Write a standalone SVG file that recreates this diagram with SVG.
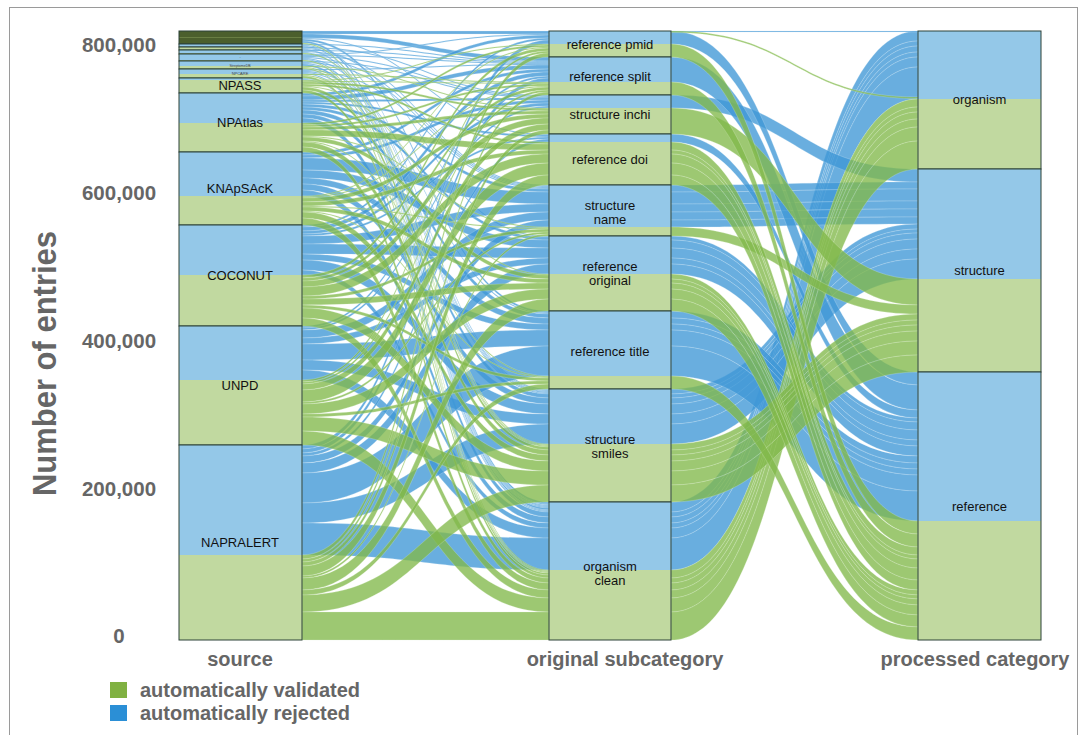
<svg xmlns="http://www.w3.org/2000/svg" width="1081" height="735" viewBox="0 0 1081 735">
<style>
.fb{fill:#3f97d6;fill-opacity:.78;stroke:#d6ebf8;stroke-width:.35;stroke-opacity:.7}
.fg{fill:#82b94a;fill-opacity:.78;stroke:#e4f1d6;stroke-width:.35;stroke-opacity:.7}
.nb{fill:#94c8e8}
.ng{fill:#c1d9a0}
.no{fill:none;stroke:#2d4238;stroke-width:1}
.lb{font-family:"Liberation Sans",Arial,sans-serif;font-size:13px;fill:#111;text-anchor:middle}
.ax{font-family:"Liberation Sans",Arial,sans-serif;font-weight:bold;font-size:20.5px;fill:#666;text-anchor:middle}
.ct{font-family:"Liberation Sans",Arial,sans-serif;font-weight:bold;font-size:20px;fill:#666}
</style>
<rect x="0" y="0" width="1081" height="735" fill="#fff"/>
<rect x="9.5" y="7.5" width="1068" height="740" fill="none" stroke="#9a9a9a" stroke-width="1"/>

<g id="axis">
<text class="ax" x="119" y="52">800,000</text>
<text class="ax" x="119" y="200">600,000</text>
<text class="ax" x="119" y="348">400,000</text>
<text class="ax" x="119" y="496">200,000</text>
<text class="ax" x="119" y="643">0</text>
<text class="ct" x="0" y="0" transform="translate(56,363.5) rotate(-90)" text-anchor="middle" style="font-size:33px" textLength="265" lengthAdjust="spacingAndGlyphs">Number of entries</text>
</g>

<g id="connectors">
<g id="flows-left-blue">
<path class="fb" d="M302 31C425.5 31 425.5 31 549 31V34C425.5 34 425.5 34 302 34Z"/>
<path class="fb" d="M302 34C425.5 34 425.5 57 549 57V61C425.5 61 425.5 38 302 38Z"/>
<path class="fb" d="M302 38C425.5 38 425.5 134 549 134V135C425.5 135 425.5 39 302 39Z"/>
<path class="fb" d="M302 39C425.5 39 425.5 311 549 311V313C425.5 313 425.5 41 302 41Z"/>
<path class="fb" d="M302 41C425.5 41 425.5 502 549 502V504C425.5 504 425.5 43 302 43Z"/>
<path class="fb" d="M302 44C425.5 44 425.5 61 549 61V62C425.5 62 425.5 45 302 45Z"/>
<path class="fb" d="M302 45C425.5 45 425.5 389 549 389V390C425.5 390 425.5 46 302 46Z"/>
<path class="fb" d="M302 46C425.5 46 425.5 504 549 504V505C425.5 505 425.5 47 302 47Z"/>
<path class="fb" d="M302 47C425.5 47 425.5 95 549 95V96C425.5 96 425.5 48 302 48Z"/>
<path class="fb" d="M302 48C425.5 48 425.5 236 549 236V237C425.5 237 425.5 49 302 49Z"/>
<path class="fb" d="M302 49C425.5 49 425.5 505 549 505V506C425.5 506 425.5 50 302 50Z"/>
<path class="fb" d="M302 50C425.5 50 425.5 62 549 62V63C425.5 63 425.5 51 302 51Z"/>
<path class="fb" d="M302 51C425.5 51 425.5 185 549 185V186C425.5 186 425.5 52 302 52Z"/>
<path class="fb" d="M302 52C425.5 52 425.5 506 549 506V507C425.5 507 425.5 53 302 53Z"/>
<path class="fb" d="M302 54C425.5 54 425.5 34 549 34V35C425.5 35 425.5 55 302 55Z"/>
<path class="fb" d="M302 55C425.5 55 425.5 63 549 63V64C425.5 64 425.5 56 302 56Z"/>
<path class="fb" d="M302 56C425.5 56 425.5 96 549 96V97C425.5 97 425.5 57 302 57Z"/>
<path class="fb" d="M302 57C425.5 57 425.5 186 549 186V187C425.5 187 425.5 58 302 58Z"/>
<path class="fb" d="M302 58C425.5 58 425.5 390 549 390V391C425.5 391 425.5 59 302 59Z"/>
<path class="fb" d="M302 59C425.5 59 425.5 507 549 507V508C425.5 508 425.5 60 302 60Z"/>
<path class="fb" d="M302 61C425.5 61 425.5 97 549 97V98C425.5 98 425.5 62 302 62Z"/>
<path class="fb" d="M302 62C425.5 62 425.5 187 549 187V188C425.5 188 425.5 63 302 63Z"/>
<path class="fb" d="M302 63C425.5 63 425.5 391 549 391V392C425.5 392 425.5 64 302 64Z"/>
<path class="fb" d="M302 64C425.5 64 425.5 508 549 508V510C425.5 510 425.5 66 302 66Z"/>
<path class="fb" d="M302 69C425.5 69 425.5 64 549 64V65C425.5 65 425.5 70 302 70Z"/>
<path class="fb" d="M302 70C425.5 70 425.5 188 549 188V189C425.5 189 425.5 71 302 71Z"/>
<path class="fb" d="M302 71C425.5 71 425.5 313 549 313V314C425.5 314 425.5 72 302 72Z"/>
<path class="fb" d="M302 72C425.5 72 425.5 392 549 392V393C425.5 393 425.5 73 302 73Z"/>
<path class="fb" d="M302 73C425.5 73 425.5 510 549 510V511C425.5 511 425.5 74 302 74Z"/>
<path class="fb" d="M302 78C425.5 78 425.5 393 549 393V394C425.5 394 425.5 79 302 79Z"/>
<path class="fb" d="M302 79C425.5 79 425.5 511 549 511V512C425.5 512 425.5 80 302 80Z"/>
<path class="fb" d="M302 93C425.5 93 425.5 35 549 35V38C425.5 38 425.5 96 302 96Z"/>
<path class="fb" d="M302 96C425.5 96 425.5 65 549 65V69C425.5 69 425.5 100 302 100Z"/>
<path class="fb" d="M302 100C425.5 100 425.5 98 549 98V100C425.5 100 425.5 102 302 102Z"/>
<path class="fb" d="M302 102C425.5 102 425.5 135 549 135V137C425.5 137 425.5 104 302 104Z"/>
<path class="fb" d="M302 104C425.5 104 425.5 189 549 189V192C425.5 192 425.5 107 302 107Z"/>
<path class="fb" d="M302 107C425.5 107 425.5 237 549 237V240C425.5 240 425.5 110 302 110Z"/>
<path class="fb" d="M302 110C425.5 110 425.5 314 549 314V318C425.5 318 425.5 114 302 114Z"/>
<path class="fb" d="M302 114C425.5 114 425.5 394 549 394V398C425.5 398 425.5 118 302 118Z"/>
<path class="fb" d="M302 118C425.5 118 425.5 512 549 512V517C425.5 517 425.5 123 302 123Z"/>
<path class="fb" d="M302 152C425.5 152 425.5 69 549 69V72C425.5 72 425.5 155 302 155Z"/>
<path class="fb" d="M302 155C425.5 155 425.5 100 549 100V103C425.5 103 425.5 158 302 158Z"/>
<path class="fb" d="M302 158C425.5 158 425.5 192 549 192V204C425.5 204 425.5 170 302 170Z"/>
<path class="fb" d="M302 170C425.5 170 425.5 240 549 240V248C425.5 248 425.5 178 302 178Z"/>
<path class="fb" d="M302 178C425.5 178 425.5 318 549 318V324C425.5 324 425.5 184 302 184Z"/>
<path class="fb" d="M302 184C425.5 184 425.5 398 549 398V404C425.5 404 425.5 190 302 190Z"/>
<path class="fb" d="M302 190C425.5 190 425.5 517 549 517V523C425.5 523 425.5 196 302 196Z"/>
<path class="fb" d="M302 225C425.5 225 425.5 38 549 38V40C425.5 40 425.5 227 302 227Z"/>
<path class="fb" d="M302 227C425.5 227 425.5 72 549 72V76C425.5 76 425.5 231 302 231Z"/>
<path class="fb" d="M302 231C425.5 231 425.5 103 549 103V106C425.5 106 425.5 234 302 234Z"/>
<path class="fb" d="M302 234C425.5 234 425.5 137 549 137V139C425.5 139 425.5 236 302 236Z"/>
<path class="fb" d="M302 236C425.5 236 425.5 204 549 204V212C425.5 212 425.5 244 302 244Z"/>
<path class="fb" d="M302 244C425.5 244 425.5 248 549 248V258C425.5 258 425.5 254 302 254Z"/>
<path class="fb" d="M302 254C425.5 254 425.5 324 549 324V330C425.5 330 425.5 260 302 260Z"/>
<path class="fb" d="M302 260C425.5 260 425.5 404 549 404V414C425.5 414 425.5 270 302 270Z"/>
<path class="fb" d="M302 270C425.5 270 425.5 523 549 523V528C425.5 528 425.5 275 302 275Z"/>
<path class="fb" d="M302 326C425.5 326 425.5 76 549 76V78C425.5 78 425.5 328 302 328Z"/>
<path class="fb" d="M302 328C425.5 328 425.5 106 549 106V108C425.5 108 425.5 330 302 330Z"/>
<path class="fb" d="M302 330C425.5 330 425.5 212 549 212V220C425.5 220 425.5 338 302 338Z"/>
<path class="fb" d="M302 338C425.5 338 425.5 258 549 258V264C425.5 264 425.5 344 302 344Z"/>
<path class="fb" d="M302 344C425.5 344 425.5 330 549 330V346C425.5 346 425.5 360 302 360Z"/>
<path class="fb" d="M302 360C425.5 360 425.5 414 549 414V424C425.5 424 425.5 370 302 370Z"/>
<path class="fb" d="M302 370C425.5 370 425.5 528 549 528V538C425.5 538 425.5 380 302 380Z"/>
<path class="fb" d="M302 445C425.5 445 425.5 40 549 40V44C425.5 44 425.5 449 302 449Z"/>
<path class="fb" d="M302 449C425.5 449 425.5 78 549 78V82C425.5 82 425.5 453 302 453Z"/>
<path class="fb" d="M302 453C425.5 453 425.5 139 549 139V142C425.5 142 425.5 456 302 456Z"/>
<path class="fb" d="M302 456C425.5 456 425.5 220 549 220V227C425.5 227 425.5 463 302 463Z"/>
<path class="fb" d="M302 463C425.5 463 425.5 264 549 264V274C425.5 274 425.5 473 302 473Z"/>
<path class="fb" d="M302 473C425.5 473 425.5 346 549 346V376C425.5 376 425.5 503 302 503Z"/>
<path class="fb" d="M302 503C425.5 503 425.5 424 549 424V444C425.5 444 425.5 523 302 523Z"/>
<path class="fb" d="M302 523C425.5 523 425.5 538 549 538V570C425.5 570 425.5 555 302 555Z"/>
</g>
<g id="flows-left-green">
<path class="fg" d="M302 43C425.5 43 425.5 570 549 570V571C425.5 571 425.5 44 302 44Z"/>
<path class="fg" d="M302 53C425.5 53 425.5 444 549 444V445C425.5 445 425.5 54 302 54Z"/>
<path class="fg" d="M302 60C425.5 60 425.5 571 549 571V572C425.5 572 425.5 61 302 61Z"/>
<path class="fg" d="M302 66C425.5 66 425.5 108 549 108V109C425.5 109 425.5 67 302 67Z"/>
<path class="fg" d="M302 67C425.5 67 425.5 445 549 445V446C425.5 446 425.5 68 302 68Z"/>
<path class="fg" d="M302 68C425.5 68 425.5 572 549 572V573C425.5 573 425.5 69 302 69Z"/>
<path class="fg" d="M302 74C425.5 74 425.5 82 549 82V83C425.5 83 425.5 75 302 75Z"/>
<path class="fg" d="M302 75C425.5 75 425.5 446 549 446V447C425.5 447 425.5 76 302 76Z"/>
<path class="fg" d="M302 76C425.5 76 425.5 573 549 573V575C425.5 575 425.5 78 302 78Z"/>
<path class="fg" d="M302 80C425.5 80 425.5 44 549 44V45C425.5 45 425.5 81 302 81Z"/>
<path class="fg" d="M302 81C425.5 81 425.5 83 549 83V84C425.5 84 425.5 82 302 82Z"/>
<path class="fg" d="M302 82C425.5 82 425.5 109 549 109V111C425.5 111 425.5 84 302 84Z"/>
<path class="fg" d="M302 84C425.5 84 425.5 142 549 142V144C425.5 144 425.5 86 302 86Z"/>
<path class="fg" d="M302 86C425.5 86 425.5 274 549 274V275C425.5 275 425.5 87 302 87Z"/>
<path class="fg" d="M302 87C425.5 87 425.5 447 549 447V450C425.5 450 425.5 90 302 90Z"/>
<path class="fg" d="M302 90C425.5 90 425.5 575 549 575V578C425.5 578 425.5 93 302 93Z"/>
<path class="fg" d="M302 123C425.5 123 425.5 45 549 45V47C425.5 47 425.5 125 302 125Z"/>
<path class="fg" d="M302 125C425.5 125 425.5 84 549 84V86C425.5 86 425.5 127 302 127Z"/>
<path class="fg" d="M302 127C425.5 127 425.5 111 549 111V114C425.5 114 425.5 130 302 130Z"/>
<path class="fg" d="M302 130C425.5 130 425.5 144 549 144V150C425.5 150 425.5 136 302 136Z"/>
<path class="fg" d="M302 136C425.5 136 425.5 227 549 227V228C425.5 228 425.5 137 302 137Z"/>
<path class="fg" d="M302 137C425.5 137 425.5 275 549 275V279C425.5 279 425.5 141 302 141Z"/>
<path class="fg" d="M302 141C425.5 141 425.5 376 549 376V377C425.5 377 425.5 142 302 142Z"/>
<path class="fg" d="M302 142C425.5 142 425.5 450 549 450V455C425.5 455 425.5 147 302 147Z"/>
<path class="fg" d="M302 147C425.5 147 425.5 578 549 578V583C425.5 583 425.5 152 302 152Z"/>
<path class="fg" d="M302 196C425.5 196 425.5 47 549 47V48C425.5 48 425.5 197 302 197Z"/>
<path class="fg" d="M302 197C425.5 197 425.5 86 549 86V87C425.5 87 425.5 198 302 198Z"/>
<path class="fg" d="M302 198C425.5 198 425.5 114 549 114V118C425.5 118 425.5 202 302 202Z"/>
<path class="fg" d="M302 202C425.5 202 425.5 150 549 150V154C425.5 154 425.5 206 302 206Z"/>
<path class="fg" d="M302 206C425.5 206 425.5 228 549 228V229C425.5 229 425.5 207 302 207Z"/>
<path class="fg" d="M302 207C425.5 207 425.5 279 549 279V283C425.5 283 425.5 211 302 211Z"/>
<path class="fg" d="M302 211C425.5 211 425.5 377 549 377V378C425.5 378 425.5 212 302 212Z"/>
<path class="fg" d="M302 212C425.5 212 425.5 455 549 455V461C425.5 461 425.5 218 302 218Z"/>
<path class="fg" d="M302 218C425.5 218 425.5 583 549 583V590C425.5 590 425.5 225 302 225Z"/>
<path class="fg" d="M302 275C425.5 275 425.5 48 549 48V51C425.5 51 425.5 278 302 278Z"/>
<path class="fg" d="M302 278C425.5 278 425.5 87 549 87V90C425.5 90 425.5 281 302 281Z"/>
<path class="fg" d="M302 281C425.5 281 425.5 118 549 118V124C425.5 124 425.5 287 302 287Z"/>
<path class="fg" d="M302 287C425.5 287 425.5 154 549 154V163C425.5 163 425.5 296 302 296Z"/>
<path class="fg" d="M302 296C425.5 296 425.5 229 549 229V232C425.5 232 425.5 299 302 299Z"/>
<path class="fg" d="M302 299C425.5 299 425.5 283 549 283V289C425.5 289 425.5 305 302 305Z"/>
<path class="fg" d="M302 305C425.5 305 425.5 378 549 378V381C425.5 381 425.5 308 302 308Z"/>
<path class="fg" d="M302 308C425.5 308 425.5 461 549 461V471C425.5 471 425.5 318 302 318Z"/>
<path class="fg" d="M302 318C425.5 318 425.5 590 549 590V598C425.5 598 425.5 326 302 326Z"/>
<path class="fg" d="M302 380C425.5 380 425.5 51 549 51V53C425.5 53 425.5 382 302 382Z"/>
<path class="fg" d="M302 382C425.5 382 425.5 90 549 90V92C425.5 92 425.5 384 302 384Z"/>
<path class="fg" d="M302 384C425.5 384 425.5 124 549 124V130C425.5 130 425.5 390 302 390Z"/>
<path class="fg" d="M302 390C425.5 390 425.5 163 549 163V175C425.5 175 425.5 402 302 402Z"/>
<path class="fg" d="M302 402C425.5 402 425.5 232 549 232V234C425.5 234 425.5 404 302 404Z"/>
<path class="fg" d="M302 404C425.5 404 425.5 289 549 289V299C425.5 299 425.5 414 302 414Z"/>
<path class="fg" d="M302 414C425.5 414 425.5 381 549 381V384C425.5 384 425.5 417 302 417Z"/>
<path class="fg" d="M302 417C425.5 417 425.5 471 549 471V485C425.5 485 425.5 431 302 431Z"/>
<path class="fg" d="M302 431C425.5 431 425.5 598 549 598V612C425.5 612 425.5 445 302 445Z"/>
<path class="fg" d="M302 555C425.5 555 425.5 53 549 53V57C425.5 57 425.5 559 302 559Z"/>
<path class="fg" d="M302 559C425.5 559 425.5 92 549 92V95C425.5 95 425.5 562 302 562Z"/>
<path class="fg" d="M302 562C425.5 562 425.5 130 549 130V134C425.5 134 425.5 566 302 566Z"/>
<path class="fg" d="M302 566C425.5 566 425.5 175 549 175V185C425.5 185 425.5 576 302 576Z"/>
<path class="fg" d="M302 576C425.5 576 425.5 234 549 234V236C425.5 236 425.5 578 302 578Z"/>
<path class="fg" d="M302 578C425.5 578 425.5 299 549 299V311C425.5 311 425.5 590 302 590Z"/>
<path class="fg" d="M302 590C425.5 590 425.5 384 549 384V389C425.5 389 425.5 595 302 595Z"/>
<path class="fg" d="M302 595C425.5 595 425.5 485 549 485V502C425.5 502 425.5 612 302 612Z"/>
<path class="fg" d="M302 612C425.5 612 425.5 612 549 612V640C425.5 640 425.5 640 302 640Z"/>
</g>
<g id="flows-right">
<path class="fb" d="M671 502C794.5 502 794.5 31 918 31V41C794.5 41 794.5 512 671 512Z"/>
<path class="fb" d="M671 512C794.5 512 794.5 41 918 41V46C794.5 46 794.5 517 671 517Z"/>
<path class="fb" d="M671 517C794.5 517 794.5 46 918 46V52C794.5 52 794.5 523 671 523Z"/>
<path class="fb" d="M671 523C794.5 523 794.5 52 918 52V57C794.5 57 794.5 528 671 528Z"/>
<path class="fb" d="M671 528C794.5 528 794.5 57 918 57V67C794.5 67 794.5 538 671 538Z"/>
<path class="fb" d="M671 538C794.5 538 794.5 67 918 67V99C794.5 99 794.5 570 671 570Z"/>
<path class="fb" d="M671 95C794.5 95 794.5 169 918 169V182C794.5 182 794.5 108 671 108Z"/>
<path class="fb" d="M671 185C794.5 185 794.5 182 918 182V189C794.5 189 794.5 192 671 192Z"/>
<path class="fb" d="M671 192C794.5 192 794.5 189 918 189V201C794.5 201 794.5 204 671 204Z"/>
<path class="fb" d="M671 204C794.5 204 794.5 201 918 201V209C794.5 209 794.5 212 671 212Z"/>
<path class="fb" d="M671 212C794.5 212 794.5 209 918 209V217C794.5 217 794.5 220 671 220Z"/>
<path class="fb" d="M671 220C794.5 220 794.5 217 918 217V224C794.5 224 794.5 227 671 227Z"/>
<path class="fb" d="M671 389C794.5 389 794.5 224 918 224V229C794.5 229 794.5 394 671 394Z"/>
<path class="fb" d="M671 394C794.5 394 794.5 229 918 229V233C794.5 233 794.5 398 671 398Z"/>
<path class="fb" d="M671 398C794.5 398 794.5 233 918 233V239C794.5 239 794.5 404 671 404Z"/>
<path class="fb" d="M671 404C794.5 404 794.5 239 918 239V249C794.5 249 794.5 414 671 414Z"/>
<path class="fb" d="M671 414C794.5 414 794.5 249 918 249V259C794.5 259 794.5 424 671 424Z"/>
<path class="fb" d="M671 424C794.5 424 794.5 259 918 259V279C794.5 279 794.5 444 671 444Z"/>
<path class="fb" d="M671 31C794.5 31 794.5 372 918 372V385C794.5 385 794.5 44 671 44Z"/>
<path class="fb" d="M671 57C794.5 57 794.5 385 918 385V410C794.5 410 794.5 82 671 82Z"/>
<path class="fb" d="M671 134C794.5 134 794.5 410 918 410V418C794.5 418 794.5 142 671 142Z"/>
<path class="fb" d="M671 236C794.5 236 794.5 418 918 418V422C794.5 422 794.5 240 671 240Z"/>
<path class="fb" d="M671 240C794.5 240 794.5 422 918 422V430C794.5 430 794.5 248 671 248Z"/>
<path class="fb" d="M671 248C794.5 248 794.5 430 918 430V440C794.5 440 794.5 258 671 258Z"/>
<path class="fb" d="M671 258C794.5 258 794.5 440 918 440V446C794.5 446 794.5 264 671 264Z"/>
<path class="fb" d="M671 264C794.5 264 794.5 446 918 446V456C794.5 456 794.5 274 671 274Z"/>
<path class="fb" d="M671 311C794.5 311 794.5 456 918 456V463C794.5 463 794.5 318 671 318Z"/>
<path class="fb" d="M671 318C794.5 318 794.5 463 918 463V469C794.5 469 794.5 324 671 324Z"/>
<path class="fb" d="M671 324C794.5 324 794.5 469 918 469V475C794.5 475 794.5 330 671 330Z"/>
<path class="fb" d="M671 330C794.5 330 794.5 475 918 475V491C794.5 491 794.5 346 671 346Z"/>
<path class="fb" d="M671 346C794.5 346 794.5 491 918 491V521C794.5 521 794.5 376 671 376Z"/>
<path class="fb" d="M671 31C794.5 31 794.5 31 918 31V32C794.5 32 794.5 32 671 32Z"/>
<path class="fg" d="M671 570C794.5 570 794.5 99 918 99V107C794.5 107 794.5 578 671 578Z"/>
<path class="fg" d="M671 578C794.5 578 794.5 107 918 107V112C794.5 112 794.5 583 671 583Z"/>
<path class="fg" d="M671 583C794.5 583 794.5 112 918 112V119C794.5 119 794.5 590 671 590Z"/>
<path class="fg" d="M671 590C794.5 590 794.5 119 918 119V127C794.5 127 794.5 598 671 598Z"/>
<path class="fg" d="M671 598C794.5 598 794.5 127 918 127V141C794.5 141 794.5 612 671 612Z"/>
<path class="fg" d="M671 612C794.5 612 794.5 141 918 141V169C794.5 169 794.5 640 671 640Z"/>
<path class="fg" d="M671 108C794.5 108 794.5 279 918 279V305C794.5 305 794.5 134 671 134Z"/>
<path class="fg" d="M671 227C794.5 227 794.5 305 918 305V314C794.5 314 794.5 236 671 236Z"/>
<path class="fg" d="M671 444C794.5 444 794.5 314 918 314V320C794.5 320 794.5 450 671 450Z"/>
<path class="fg" d="M671 450C794.5 450 794.5 320 918 320V325C794.5 325 794.5 455 671 455Z"/>
<path class="fg" d="M671 455C794.5 455 794.5 325 918 325V331C794.5 331 794.5 461 671 461Z"/>
<path class="fg" d="M671 461C794.5 461 794.5 331 918 331V341C794.5 341 794.5 471 671 471Z"/>
<path class="fg" d="M671 471C794.5 471 794.5 341 918 341V355C794.5 355 794.5 485 671 485Z"/>
<path class="fg" d="M671 485C794.5 485 794.5 355 918 355V372C794.5 372 794.5 502 671 502Z"/>
<path class="fg" d="M671 44C794.5 44 794.5 521 918 521V534C794.5 534 794.5 57 671 57Z"/>
<path class="fg" d="M671 82C794.5 82 794.5 534 918 534V547C794.5 547 794.5 95 671 95Z"/>
<path class="fg" d="M671 142C794.5 142 794.5 547 918 547V555C794.5 555 794.5 150 671 150Z"/>
<path class="fg" d="M671 150C794.5 150 794.5 555 918 555V559C794.5 559 794.5 154 671 154Z"/>
<path class="fg" d="M671 154C794.5 154 794.5 559 918 559V568C794.5 568 794.5 163 671 163Z"/>
<path class="fg" d="M671 163C794.5 163 794.5 568 918 568V580C794.5 580 794.5 175 671 175Z"/>
<path class="fg" d="M671 175C794.5 175 794.5 580 918 580V590C794.5 590 794.5 185 671 185Z"/>
<path class="fg" d="M671 274C794.5 274 794.5 590 918 590V595C794.5 595 794.5 279 671 279Z"/>
<path class="fg" d="M671 279C794.5 279 794.5 595 918 595V599C794.5 599 794.5 283 671 283Z"/>
<path class="fg" d="M671 283C794.5 283 794.5 599 918 599V605C794.5 605 794.5 289 671 289Z"/>
<path class="fg" d="M671 289C794.5 289 794.5 605 918 605V615C794.5 615 794.5 299 671 299Z"/>
<path class="fg" d="M671 299C794.5 299 794.5 615 918 615V627C794.5 627 794.5 311 671 311Z"/>
<path class="fg" d="M671 376C794.5 376 794.5 627 918 627V640C794.5 640 794.5 389 671 389Z"/>
<path class="fg" d="M671 31C794.5 31 794.5 97 918 97V98.5C794.5 98.5 794.5 32.5 671 32.5Z"/>
</g>
</g>

<g id="src-top-block">
<rect x="179" y="31" width="123" height="13" fill="#4b5f2c"/>
<line x1="179" y1="37.5" x2="302" y2="37.5" stroke="#7d9454" stroke-width="0.6"/>
<rect class="no" x="179" y="31" width="123" height="13"/>
</g>
<g id="src-small-1"><rect class="nb" x="179" y="44" width="123" height="3"/><rect class="no" x="179" y="44" width="123" height="3"/></g>
<g id="src-small-2"><rect class="ng" x="179" y="47" width="123" height="3"/><rect class="no" x="179" y="47" width="123" height="3"/></g>
<g id="src-small-3"><rect class="nb" x="179" y="50" width="123" height="3"/><rect class="ng" x="179" y="53" width="123" height="1"/><rect class="no" x="179" y="50" width="123" height="4"/></g>
<g id="src-dot"><rect class="nb" x="179" y="54" width="123" height="6"/><rect class="ng" x="179" y="60" width="123" height="1"/><rect class="no" x="179" y="54" width="123" height="7"/><text class="lb" x="240" y="58" style="font-size:4px">.</text></g>
<g id="src-StreptomeDB"><rect class="nb" x="179" y="61" width="123" height="5"/><rect class="ng" x="179" y="66" width="123" height="3"/><rect class="no" x="179" y="61" width="123" height="8"/><text class="lb" x="240" y="66.5" style="font-size:3.5px;fill:#444">StreptomeDB</text></g>
<g id="src-NPCARE"><rect class="nb" x="179" y="69" width="123" height="5"/><rect class="ng" x="179" y="74" width="123" height="4"/><rect class="no" x="179" y="69" width="123" height="9"/><text class="lb" x="240" y="75" style="font-size:4px;fill:#444">NPCARE</text></g>
<g id="src-NPASS"><rect class="nb" x="179" y="78" width="123" height="2"/><rect class="ng" x="179" y="80" width="123" height="13"/><rect class="no" x="179" y="78" width="123" height="15"/><text class="lb" x="240" y="90">NPASS</text></g>
<g id="src-NPAtlas"><rect class="nb" x="179" y="93" width="123" height="30"/><rect class="ng" x="179" y="123" width="123" height="29"/><rect class="no" x="179" y="93" width="123" height="59"/><text class="lb" x="240" y="127">NPAtlas</text></g>
<g id="src-KNApSAcK"><rect class="nb" x="179" y="152" width="123" height="44"/><rect class="ng" x="179" y="196" width="123" height="29"/><rect class="no" x="179" y="152" width="123" height="73"/><text class="lb" x="240" y="193">KNApSAcK</text></g>
<g id="src-COCONUT"><rect class="nb" x="179" y="225" width="123" height="50"/><rect class="ng" x="179" y="275" width="123" height="51"/><rect class="no" x="179" y="225" width="123" height="101"/><text class="lb" x="240" y="280">COCONUT</text></g>
<g id="src-UNPD"><rect class="nb" x="179" y="326" width="123" height="54"/><rect class="ng" x="179" y="380" width="123" height="65"/><rect class="no" x="179" y="326" width="123" height="119"/><text class="lb" x="240" y="390">UNPD</text></g>
<g id="src-NAPRALERT"><rect class="nb" x="179" y="445" width="123" height="110"/><rect class="ng" x="179" y="555" width="123" height="85"/><rect class="no" x="179" y="445" width="123" height="195"/><text class="lb" x="240" y="547">NAPRALERT</text></g>

<g id="sub-reference-pmid"><rect class="nb" x="549" y="31" width="122" height="13"/><rect class="ng" x="549" y="44" width="122" height="13"/><rect class="no" x="549" y="31" width="122" height="26"/><text class="lb" x="610" y="48.5">reference pmid</text></g>
<g id="sub-reference-split"><rect class="nb" x="549" y="57" width="122" height="25"/><rect class="ng" x="549" y="82" width="122" height="13"/><rect class="no" x="549" y="57" width="122" height="38"/><text class="lb" x="610" y="80.5">reference split</text></g>
<g id="sub-structure-inchi"><rect class="nb" x="549" y="95" width="122" height="13"/><rect class="ng" x="549" y="108" width="122" height="26"/><rect class="no" x="549" y="95" width="122" height="39"/><text class="lb" x="610" y="119">structure inchi</text></g>
<g id="sub-reference-doi"><rect class="nb" x="549" y="134" width="122" height="8"/><rect class="ng" x="549" y="142" width="122" height="43"/><rect class="no" x="549" y="134" width="122" height="51"/><text class="lb" x="610" y="164">reference doi</text></g>
<g id="sub-structure-name"><rect class="nb" x="549" y="185" width="122" height="42"/><rect class="ng" x="549" y="227" width="122" height="9"/><rect class="no" x="549" y="185" width="122" height="51"/><text class="lb" x="610" y="209.5">structure</text><text class="lb" x="610" y="223.5">name</text></g>
<g id="sub-reference-original"><rect class="nb" x="549" y="236" width="122" height="38"/><rect class="ng" x="549" y="274" width="122" height="37"/><rect class="no" x="549" y="236" width="122" height="75"/><text class="lb" x="610" y="270.5">reference</text><text class="lb" x="610" y="284.5">original</text></g>
<g id="sub-reference-title"><rect class="nb" x="549" y="311" width="122" height="65"/><rect class="ng" x="549" y="376" width="122" height="13"/><rect class="no" x="549" y="311" width="122" height="78"/><text class="lb" x="610" y="355.5">reference title</text></g>
<g id="sub-structure-smiles"><rect class="nb" x="549" y="389" width="122" height="55"/><rect class="ng" x="549" y="444" width="122" height="58"/><rect class="no" x="549" y="389" width="122" height="113"/><text class="lb" x="610" y="443.5">structure</text><text class="lb" x="610" y="457.5">smiles</text></g>
<g id="sub-organism-clean"><rect class="nb" x="549" y="502" width="122" height="68"/><rect class="ng" x="549" y="570" width="122" height="70"/><rect class="no" x="549" y="502" width="122" height="138"/><text class="lb" x="610" y="570.5">organism</text><text class="lb" x="610" y="584.5">clean</text></g>

<g id="cat-organism"><rect class="nb" x="918" y="31" width="123" height="68"/><rect class="ng" x="918" y="99" width="123" height="70"/><rect class="no" x="918" y="31" width="123" height="138"/><text class="lb" x="979.5" y="104">organism</text></g>
<g id="cat-structure"><rect class="nb" x="918" y="169" width="123" height="110"/><rect class="ng" x="918" y="279" width="123" height="93"/><rect class="no" x="918" y="169" width="123" height="203"/><text class="lb" x="979.5" y="275">structure</text></g>
<g id="cat-reference"><rect class="nb" x="918" y="372" width="123" height="149"/><rect class="ng" x="918" y="521" width="123" height="119"/><rect class="no" x="918" y="372" width="123" height="268"/><text class="lb" x="979.5" y="511">reference</text></g>

<g id="column-titles">
<text class="ct" x="240" y="666" text-anchor="middle">source</text>
<text class="ct" x="625" y="666" text-anchor="middle">original subcategory</text>
<text class="ct" x="975" y="666" text-anchor="middle">processed category</text>
</g>

<g id="legend">
<rect x="110" y="682" width="17" height="16" fill="#80b142"/>
<text class="ct" x="140" y="697">automatically validated</text>
<rect x="110" y="705" width="17" height="16" fill="#2b8fd6"/>
<text class="ct" x="140" y="720">automatically rejected</text>
</g>
</svg>
